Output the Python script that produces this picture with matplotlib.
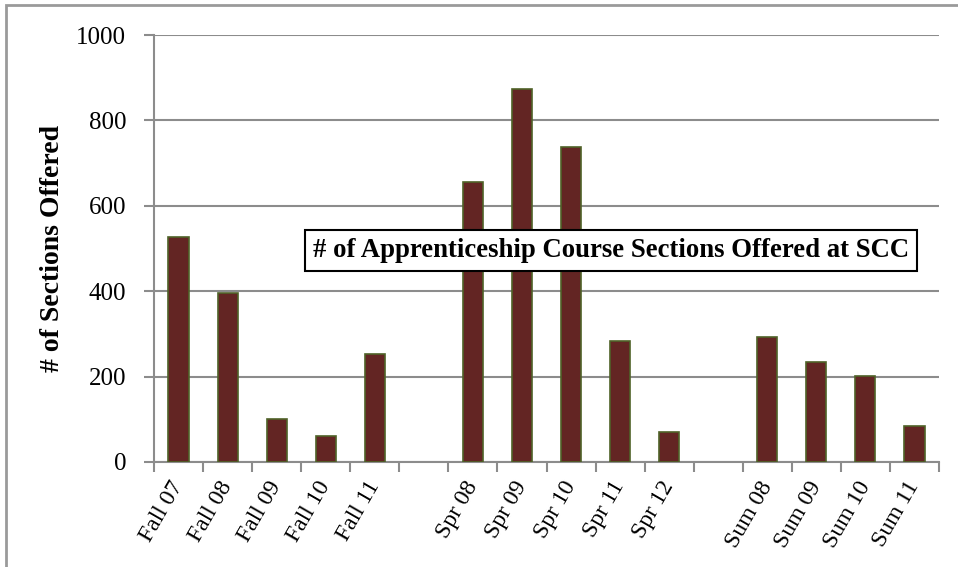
import numpy as np
import matplotlib.pyplot as plt
from matplotlib.patches import Rectangle

# ==========================
# DATA
# ==========================
categories = ["Fall 07", "Fall 08", "Fall 09", "Fall 10", "Fall 11", "",
              "Spr 08", "Spr 09", "Spr 10", "Spr 11", "Spr 12", "",
              "Sum 08", "Sum 09", "Sum 10", "Sum 11"]
sections = [527, 395, 101, 62, 253, np.nan,
            656, 874, 738, 283, 70, np.nan,
            293, 235, 202, 84]
yticks = [0, 200, 400, 600, 800, 1000]

TITLE = "# of Apprenticeship Course Sections Offered at SCC"
YLABEL = "# of Sections Offered"

plt.rcParams['font.family'] = ['Liberation Serif', 'DejaVu Serif']

# ==========================
# PLOT
# ==========================
fig = plt.figure(figsize=(9.58, 5.67), dpi=100)
ax = fig.add_axes([154 / 958, 1 - 462 / 567, 785 / 958, 427 / 567])

x = np.arange(len(categories))
vals = np.array(sections, dtype=float)
mask = ~np.isnan(vals)
ax.bar(x[mask], vals[mask], width=0.41, color="#632523",
       edgecolor="#4F6228", linewidth=1.2, zorder=3)

ax.set_xlim(-0.5, len(categories) - 0.5)
ax.set_ylim(0, 1000)
ax.set_yticks(yticks)
ax.yaxis.grid(True, color="#8c8c8c", linewidth=1.5, zorder=0)

# category labels at centers, tick marks at boundaries
ax.set_xticks(x)
ax.set_xticklabels(categories, rotation=60, ha="right", va="center",
                   rotation_mode="anchor", fontsize=17)
ax.set_xticks(np.arange(len(categories) + 1) - 0.5, minor=True)
ax.tick_params(axis="x", which="major", length=0, pad=15)
ax.tick_params(axis="x", which="minor", length=7, width=1.5, color="#8c8c8c")
ax.tick_params(axis="y", length=7, width=1.5, color="#8c8c8c",
               labelsize=18, pad=13)

for side in ["top", "right"]:
    ax.spines[side].set_visible(False)
for side in ["left", "bottom"]:
    ax.spines[side].set_color("#8c8c8c")
    ax.spines[side].set_linewidth(1.5)

ax.set_ylabel(YLABEL, fontsize=20, fontweight="bold", labelpad=8)

ax.text((611 - 154) / 785, (462 - 250.5) / 427, TITLE,
        transform=ax.transAxes, ha="center", va="center",
        fontsize=19.3, fontweight="bold", zorder=5,
        bbox=dict(boxstyle="square,pad=0.3", facecolor="white",
                  edgecolor="black", linewidth=1.5))

# outer chart border
fig.patches.append(Rectangle((6 / 958, -0.1), 1.2, 1 - 5 / 567 + 0.1,
                             transform=fig.transFigure, fill=False,
                             edgecolor="#9a9a9a", linewidth=2))

fig.savefig("out.png", dpi=100)
